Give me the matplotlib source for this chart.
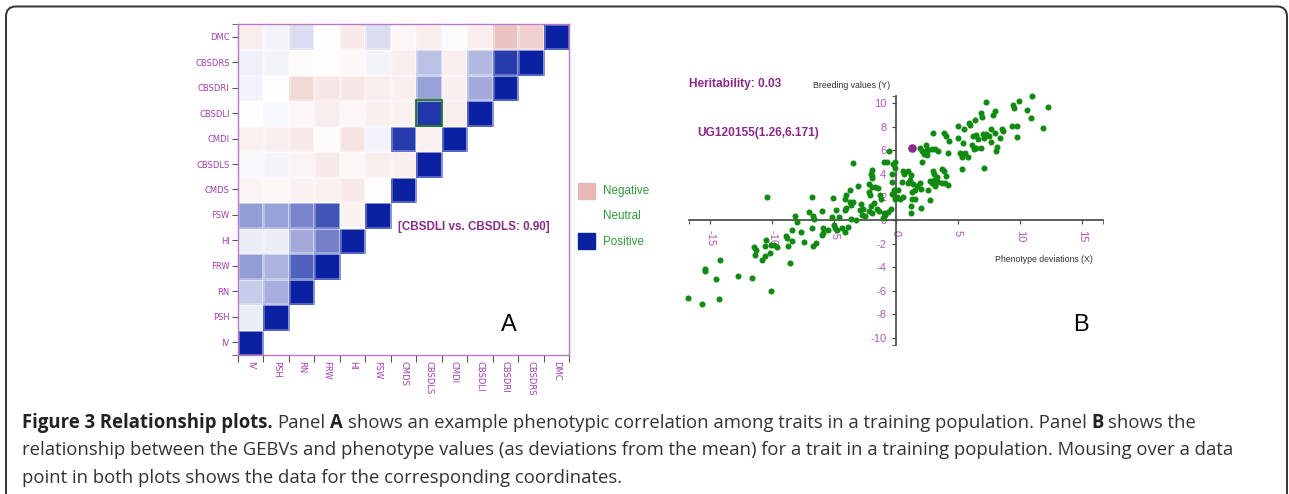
import numpy as np
import matplotlib
matplotlib.use('Agg')
import matplotlib.pyplot as plt
from matplotlib.colors import LinearSegmentedColormap
from matplotlib.patches import Rectangle, FancyBboxPatch

# --- Panel A: correlacao fenotipica entre caracteres (triangulo inferior) ---
traits = ['IV', 'PSH', 'RN', 'FRW', 'HI', 'FSW', 'CMDS', 'CBSDLS', 'CMDI',
          'CBSDLI', 'CBSDRI', 'CBSDRS', 'DMC']
corr_rows = [
    [1.0],
    [0.08, 1.0],
    [0.23, 0.36, 1.0],
    [0.44, 0.34, 0.71, 1.0],
    [0.08, 0.08, 0.38, 0.57, 1.0],
    [0.44, 0.42, 0.55, 0.77, -0.18, 1.0],
    [-0.15, -0.12, -0.20, -0.20, -0.30, -0.03, 1.0],
    [0.03, 0.04, -0.15, -0.30, -0.10, -0.25, -0.22, 1.0],
    [-0.20, -0.22, -0.30, -0.05, -0.38, 0.06, 0.88, -0.20, 1.0],
    [0.0, 0.03, -0.12, -0.25, -0.12, -0.22, -0.20, 0.90, -0.25, 1.0],
    [0.06, 0.0, -0.55, -0.35, -0.35, -0.25, -0.22, 0.42, -0.22, 0.38, 1.0],
    [0.07, 0.05, -0.05, 0.0, -0.10, 0.04, -0.25, 0.28, -0.25, 0.32, 0.88, 1.0],
    [-0.25, 0.05, 0.15, 0.0, -0.30, 0.15, -0.12, -0.25, 0.02, -0.25, -0.85, -0.65, 1.0],
]
sel_pair = ('CBSDLI', 'CBSDLS')

# --- Panel B: GEBV vs desvio fenotipico ---
pheno_x = [
    -10.4, -6.8, -8.2, -8.0, -7.0, -6.7, -6.6, -6.8, -8.4, -7.7, -8.9, -8.8, -8.4,
    -7.4, -6.5, -6.7, -10.5, -10.1, -9.85, -9.6, -10.6, -11.5, -11.3, -10.2, -8.7,
    -11.4, -10.6, -10.8, -14.2, -8.6, -15.4, -15.4, -12.8, -14.55, -11.6, -10.1,
    -16.8, -15.7, -14.3,
    -0.57, -3.5, -0.97, -0.75, -0.27, -1.94, -2.0, -1.9, -1.94, -0.35, -3.1, -2.16,
    -1.97, -1.7, -1.43, -2.2, -2.1, -1.3, -1.2, -1.8, -2.0, -1.56, -1.35, -0.97,
    -0.89, -1.08, -0.62, -0.43, -0.35, -0.32, -0.2, -0.08, -3.7, -4.0, -4.1, -3.7,
    -3.45, -3.6, -2.83, -2.64, -2.9, -2.78, -2.53, -2.2, -1.97, -5.1, -6.0, -4.85,
    -4.1, -4.0, -5.2, -4.6, -3.6, -3.2, -5.9, -5.5, -5.0, -4.9, -4.8, -4.4, -4.1,
    -3.85, -5.9, -6.0,
    6.87, 6.98, 6.4, 5.9, 6.0, 4.99, 5.5, 3.9, 4.0, 3.0, 5.0, 4.3, 6.2, 6.5, 7.0,
    7.25, 7.5, 6.66, 7.7, 5.4, 6.1, 6.3, 6.5, 6.9, 2.4, 2.48, 1.94, 2.13, 2.6, 2.9,
    3.15, 3.37, 2.3, 2.48, 4.2, 5.2, 5.36, 5.6, 5.85, 5.3, 2.13, 5.3, 7.14, -0.08,
    -0.08, 0.59, 0.65, 1.0, 1.2, 1.13, 0.46, 0.94, 1.4, 1.67, 1.94, 1.54, 1.27, 2.0,
    3.0, 3.1, 3.3, 3.7, 3.9, 4.0, 3.1, 2.88, 2.75, 3.1, 3.4, 3.15, 3.7, 3.96, 4.18,
    2.6, 2.75, 0.19, 0.05, 0.32, 0.59, 1.27, 1.54, 1.2, 2.0, 1.2,
    10.97, 7.28, 9.9, 9.43, 9.57, 10.57, 12.26, 8.0, 7.87, 10.9, 11.86, 9.35, 9.76,
    7.65, 8.54, 8.67, 8.0, 7.1, 8.4, 9.76, 8.14, 8.08,
]
breed_y = [
    2.0, 2.0, 0.4, -0.1, 0.7, 0.35, 0.1, -0.65, -0.8, -0.95, -1.35, -1.5, -1.75,
    -1.8, -1.9, -2.2, -1.65, -2.05, -2.1, -2.3, -2.2, -2.3, -2.55, -2.8, -2.2,
    -2.95, -3.0, -3.4, -3.4, -3.6, -4.1, -4.3, -4.7, -5.0, -4.9, -6.0,
    -6.6, -7.1, -6.7,
    5.9, 4.9, 5.0, 5.0, 4.8, 4.3, 4.0, 3.8, 3.6, 4.0, 2.95, 3.15,
    2.87, 2.9, 2.73, 2.45, 2.16, 2.16, 1.87, 1.5, 1.2, 1.0, 0.8, 0.65,
    0.45, 0.23, 0.74, 1.0, 3.3, 2.3, 2.6, 1.87, 2.6, 2.16, 1.8, 1.6,
    1.6, 1.3, 1.45, 1.0, 0.88, 0.45, 0.37, 0.8, 0.6, 1.96, 0.82, 0.88,
    0.88, 1.08, 0.31, 0.31, 0.17, 0.03, -0.68, -0.77, -0.4, -0.6, -0.82, -0.68, -0.97,
    -0.54, -1.1, -1.2,
    9.15, 8.86, 8.6, 8.35, 8.15, 8.1, 7.8, 7.5, 7.2, 7.5, 7.0, 6.8, 7.2, 7.3, 7.4,
    7.4, 7.2, 6.95, 6.7, 6.65, 6.4, 6.1, 6.2, 6.2, 6.45, 6.1, 6.2, 5.9, 6.0, 6.1,
    6.1, 5.9, 5.7, 5.6, 5.8, 5.8, 5.6, 5.8, 5.45, 5.4, 5.0, 4.4, 4.5, 5.0,
    4.5, 4.2, 3.95, 4.2, 3.9, 3.47, 3.3, 3.24, 3.1, 2.95, 3.24, 2.6, 2.4, 2.7,
    4.26, 4.0, 3.75, 4.37, 4.2, 3.8, 3.47, 3.24, 3.4, 3.1, 3.3, 2.95, 3.24, 3.2, 3.04,
    2.6, 1.76, 2.6, 2.0, 1.8, 2.0, 1.8, 1.8, 1.25, 1.05, 0.68,
    10.6, 10.14, 10.2, 9.86, 9.57, 9.43, 9.7, 9.35, 9.0, 8.75, 7.9, 8.07, 8.1,
    7.8, 7.8, 7.6, 7.5, 7.07, 7.0, 7.1, 6.25, 5.9,
]
sel_name = 'UG120155'
sel_x, sel_y = 1.26, 6.171
heritability = 0.03

purple = '#a33cb0'
tick_purple = '#b455b8'
dark_purple = '#8b2a8b'
green_txt = '#2f9a3a'

fig = plt.figure(figsize=(12.89, 4.94), dpi=100)

# eixo transparente em pixels (por cima) para textos, legenda e moldura
ax_bg = fig.add_axes([0, 0, 1, 1], zorder=10)
ax_bg.set_xlim(0, 1289)
ax_bg.set_ylim(494, 0)
ax_bg.axis('off')
ax_bg.add_patch(FancyBboxPatch((6, 6.5), 1281, 520, boxstyle='round,pad=0,rounding_size=10',
                               fill=False, edgecolor='#333333', lw=1.4))

# ---------------- Panel A ----------------
n = len(traits)
mat = np.full((n, n), np.nan)
for i, row in enumerate(corr_rows):
    mat[i, :len(row)] = row
cmap = LinearSegmentedColormap.from_list('negpos', ['#e8b8b6', '#ffffff', '#0a22a2'])

axA = fig.add_axes([238 / 1289, 1 - 355 / 494, 331 / 1289, 331 / 494])
axA.set_facecolor('none')
axA.pcolormesh(np.arange(n + 1), np.arange(n + 1), np.ma.masked_invalid(mat),
               cmap=cmap, vmin=-1, vmax=1, edgecolors=(1, 1, 1, 0.3), linewidth=0.8)
ci = traits.index(sel_pair[1])
ri = traits.index(sel_pair[0])
axA.add_patch(Rectangle((ci, ri), 1, 1, fill=False, edgecolor='#1f7a1f', lw=1.3))
axA.set_xlim(0, n)
axA.set_ylim(0, n)
for s in axA.spines.values():
    s.set_color('#b779c4')
    s.set_linewidth(1.0)
axA.set_yticks(np.arange(n) + 0.5)
axA.set_yticklabels(traits, fontsize=6, color=purple, family='DejaVu Sans')
axA.set_yticks([0, n], minor=True)
axA.set_xticks(np.arange(n + 1))
axA.set_xticklabels([])
axA.set_xticks(np.arange(n) + 0.5, minor=True)
axA.set_xticklabels(traits, minor=True, rotation=-90, fontsize=6, color=purple,
                    family='DejaVu Sans', va='top', ha='center')
axA.tick_params(axis='y', which='both', length=4, color='#555555', pad=2)
axA.tick_params(axis='x', which='major', length=5, color='#555555')
axA.tick_params(axis='x', which='minor', length=0, pad=4)

val = corr_rows[ri][ci]
ax_bg.text(398, 227, f'[{sel_pair[0]} vs. {sel_pair[1]}: {val:.2f}]', fontsize=8.4,
           fontweight='bold', color=dark_purple, family='Liberation Sans', va='center')
ax_bg.text(509, 325, 'A', fontsize=17, family='Liberation Sans', ha='center', va='center')

# legenda
ax_bg.add_patch(Rectangle((578, 183), 17, 16, color='#e8b8b6'))
ax_bg.add_patch(Rectangle((578, 233), 17, 16, color='#0a22a2'))
for label, yy in [('Negative', 191), ('Neutral', 216), ('Positive', 242)]:
    ax_bg.text(603, yy, label, fontsize=8.4, color=green_txt, family='Liberation Sans',
               va='center')

# ---------------- Panel B ----------------
axB = fig.add_axes([689.3 / 1289, 1 - 345 / 494, 413.4 / 1289, 249 / 494])
axB.scatter(pheno_x, breed_y, s=19, color='#108a10', linewidths=0, zorder=3, clip_on=False)
axB.scatter([sel_x], [sel_y], s=38, color=dark_purple, linewidths=0, zorder=4)
axB.set_xlim(-16.7, 16.7)
axB.set_ylim(-10.62, 10.62)
axB.patch.set_visible(False)
for side in ['top', 'right']:
    axB.spines[side].set_visible(False)
for side in ['left', 'bottom']:
    axB.spines[side].set_position(('data', 0))
    axB.spines[side].set_color('#444444')
    axB.spines[side].set_linewidth(1.2)
axB.set_xticks([-15, -10, -5, 0, 5, 10, 15])
axB.set_yticks(np.arange(-10, 11, 2))
axB.set_xticks([-16.7, 16.7], minor=True)
axB.set_yticks([-10.62, 10.62], minor=True)
axB.set_xticklabels(['-15', '-10', '-5', '0', '5', '10', '15'], rotation=-90,
                    fontsize=8, color=tick_purple, family='Liberation Sans')
axB.set_yticklabels([str(v) for v in range(-10, 11, 2)], fontsize=8,
                    color=tick_purple, family='Liberation Sans')
axB.tick_params(which='both', length=3, color='#444444', direction='out', pad=4)

ax_bg.text(813, 85, 'Breeding values (Y)', fontsize=6.3, color='#333333',
           family='Liberation Sans', va='center')
ax_bg.text(995, 259, 'Phenotype deviations (X)', fontsize=6.3, color='#333333',
           family='Liberation Sans', va='center')
ax_bg.text(689, 84, f'Heritability: {heritability:.2f}', fontsize=8.6, fontweight='bold',
           color=dark_purple, family='Liberation Sans', va='center')
ax_bg.text(697, 133, f'{sel_name}({sel_x},{sel_y})', fontsize=8.6, fontweight='bold',
           color=dark_purple, family='Liberation Sans', va='center')
ax_bg.text(1081, 325, 'B', fontsize=17, family='Liberation Sans', ha='center', va='center')

# ---------------- legenda da figura ----------------
renderer = fig.canvas.get_renderer()


def text_w(s, **kw):
    t = ax_bg.text(0, 0, s, **kw)
    w = t.get_window_extent(renderer).width
    t.remove()
    return w


cap_font = 'Open Sans'
line3 = 'point in both plots shows the data for the corresponding coordinates.'
cap_size = 11 * 603 / text_w(line3, fontsize=11, family=cap_font)
reg = dict(fontsize=cap_size, family=cap_font, color='#333333', va='center')
bold = dict(fontsize=cap_size, family=cap_font, color='#222222', va='center',
            fontweight='bold')
space = text_w('a a', **reg) - text_w('aa', **reg)

runs1 = [('Figure 3 Relationship plots.', bold), ('Panel', reg), ('A', bold),
         ('shows an example phenotypic correlation among traits in a training population. Panel', reg),
         ('B', bold), ('shows the', reg)]
x = 22
for s, kw in runs1:
    ax_bg.text(x, 423, s, **kw)
    x += text_w(s, **kw) + space
ax_bg.text(22, 450, 'relationship between the GEBVs and phenotype values (as deviations from the '
           'mean) for a trait in a training population. Mousing over a data', **reg)
ax_bg.text(22, 478, line3, **reg)

fig.savefig('out.png', dpi=100)
